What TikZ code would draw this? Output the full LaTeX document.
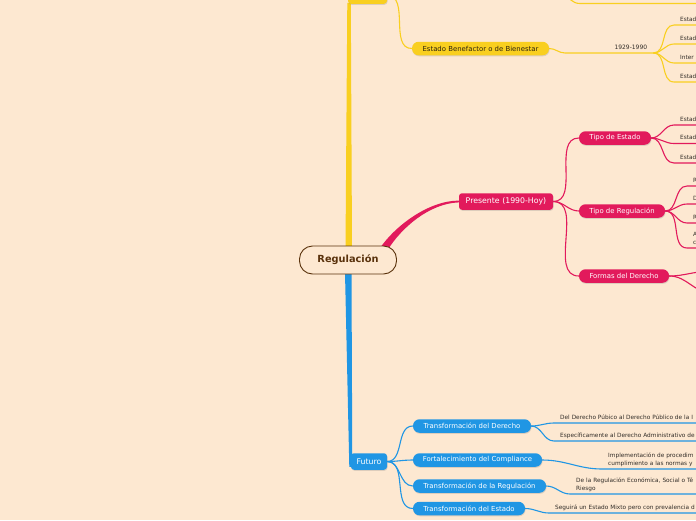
\documentclass[tikz,border=0pt]{standalone}
\usepackage{fontspec}
\setmainfont{DejaVu Sans}
\usetikzlibrary{calc,shadows,backgrounds}
\definecolor{fondo}{RGB}{253,232,209}
\definecolor{amarillo}{RGB}{249,207,32}
\definecolor{rosa}{RGB}{226,26,92}
\definecolor{azul}{RGB}{32,150,228}
\definecolor{marron}{RGB}{90,50,12}
\definecolor{textohoja}{RGB}{50,45,40}
\definecolor{textoamarillo}{RGB}{45,35,15}
\tikzset{
  sombra/.style={drop shadow={opacity=0.25, shadow xshift=0.5pt, shadow yshift=-1pt}},
  raiz/.style={draw=marron, fill=fondo, line width=0.9pt, rounded corners=13pt,
    minimum width=97pt, minimum height=28pt, text=marron,
    font=\fontsize{9.8}{11}\selectfont\bfseries},
  epoca/.style={fill=#1, rounded corners=3pt, inner sep=0pt, minimum height=16.5pt,
    text=white, font=\fontsize{7.8}{9}\selectfont, sombra},
  tema/.style={fill=#1, rounded corners=6.5pt, inner sep=0pt, minimum height=13.5pt,
    text=white, font=\fontsize{6.9}{8}\selectfont, sombra},
  hoja/.style={anchor=south west, inner xsep=6pt, inner ysep=2pt, text depth=1.5pt,
    text width=#1, align=left, text=textohoja, font=\fontsize{5.8}{7.8}\selectfont},
  hoja/.default=170pt,
  dosfilas/.style={text depth=9.3pt},
  rama/.style={draw=#1, line width=1.1pt},
}
\begin{document}
\begin{tikzpicture}[x=1pt, y=-1pt]
    \path[use as bounding box] (0,0) rectangle (696,520);
    \clip (0,0) rectangle (696,520);
    \begin{scope}[on background layer]
      \fill[fondo] (0,0) rectangle (696,520);
    \end{scope}
    % Raíz y épocas
    \node[raiz] (regul) at (348,260) {Regulación};
    \node[epoca=amarillo, minimum width=39pt] (pasado) at (367.5,-4.5) {};
    \node[epoca=rosa, minimum width=94pt] (presente) at (506,201.5) {Presente (1990-Hoy)};
    \node[epoca=azul, minimum width=36pt] (futuro) at (369,461.5) {Futuro};
    % Pasado
    \node[tema=amarillo, text=textoamarillo, minimum width=137pt] (benefactor) at (480.5,48.5) {Estado Benefactor o de Bienestar};
    \node[hoja=76pt, align=right, font=\fontsize{6}{7}\selectfont] (periodo) at (565,53) {1929-1990};
    \node[hoja] (bene1) at (674,25) {Estad};
    \node[hoja] (bene2) at (674,44) {Estad};
    \node[hoja] (bene3) at (674,63) {Inter};
    \node[hoja] (bene4) at (674,82) {Estad};
    \coordinate (oculta) at (548,-20);
    \coordinate (ocultahoja) at (580,3.5);
    \coordinate (ocultafin) at (700,3.5);
    % Presente
    \node[tema=rosa, minimum width=72pt] (tipoestado) at (615,138) {Tipo de Estado};
    \node[tema=rosa, minimum width=86pt] (tiporeg) at (622,211) {Tipo de Regulación};
    \node[tema=rosa, minimum width=90pt] (formas) at (624,276) {Formas del Derecho};
    \node[hoja] (estado1) at (674,125) {Estad};
    \node[hoja] (estado2) at (674,143.5) {Estad};
    \node[hoja] (estado3) at (674,163) {Estad};
    \node[hoja] (reg1) at (687,186) {R};
    \node[hoja] (reg2) at (687,204) {D};
    \node[hoja] (reg3) at (687,223) {R};
    \node[hoja, dosfilas] (reg4) at (687,248) {A\\c};
    \coordinate (formas1) at (708,271.5);
    \coordinate (formas2) at (712,293);
    % Futuro
    \node[tema=azul, minimum width=118pt] (tderecho) at (472,426) {Transformación del Derecho};
    \node[tema=azul, minimum width=129pt] (compliance) at (477.5,460) {Fortalecimiento del Compliance};
    \node[tema=azul, minimum width=133pt] (treg) at (479.5,486) {Transformación de la Regulación};
    \node[tema=azul, minimum width=112pt] (testado) at (469,508.5) {Transformación del Estado};
    \node[hoja] (derecho1) at (554,423) {Del Derecho Púbico al Derecho Público de la I};
    \node[hoja] (derecho2) at (554,441) {Específicamente al Derecho Administrativo de};
    \node[hoja, dosfilas] (compl1) at (602,469) {Implementación de procedim\\cumplimiento a las normas y};
    \node[hoja, dosfilas] (reg5) at (570,494) {De la Regulación Económica, Social o Té\\Riesgo};
    \node[hoja] (estado4) at (549,513) {Seguirá un Estado Mixto pero con prevalencia d};
    % Ramas
    \begin{scope}[on background layer]
      \clip (0,0) rectangle (696,520);
      \fill[amarillo] ($(regul.north)+(-2.5,2)$) -- ($(regul.north)+(4,2)$) -- ($(pasado.south west)+(3,-1)$) -- ($(pasado.south west)+(-0.5,-1)$) -- cycle;
      \draw[rama=amarillo] (pasado.east) to[out=0,in=180] (benefactor.west);
      \draw[rama=amarillo] (benefactor.east) to[out=0,in=180] (periodo.south west) -- (periodo.south east);
      \draw[rama=amarillo] (periodo.south east) to[out=0,in=180] (bene1.south west) -- (bene1.south east);
      \draw[rama=amarillo] (periodo.south east) to[out=0,in=180] (bene2.south west) -- (bene2.south east);
      \draw[rama=amarillo] (periodo.south east) to[out=0,in=180] (bene3.south west) -- (bene3.south east);
      \draw[rama=amarillo] (periodo.south east) to[out=0,in=180] (bene4.south west) -- (bene4.south east);
      \draw[rama=amarillo] (oculta) to[out=0,in=180] (ocultahoja) -- (ocultafin);
      \fill[rosa] ($(regul.north east)+(-18,4)$) .. controls +(16,-24) and +(-30,0) .. ($(presente.west)+(0,-0.9)$)
        -- ($(presente.west)+(0,0.9)$) .. controls +(-30,1) and +(13,-21) .. ($(regul.north east)+(-9,4)$) -- cycle;
      \draw[rama=rosa] (presente.east) to[out=0,in=180] (tipoestado.west);
      \draw[rama=rosa] (presente.east) to[out=0,in=180] (tiporeg.west);
      \draw[rama=rosa] (presente.east) to[out=0,in=180] (formas.west);
      \draw[rama=rosa] (tipoestado.east) to[out=0,in=180] (estado1.south west) -- (estado1.south east);
      \draw[rama=rosa] (tipoestado.east) to[out=0,in=180] (estado2.south west) -- (estado2.south east);
      \draw[rama=rosa] (tipoestado.east) to[out=0,in=180] (estado3.south west) -- (estado3.south east);
      \draw[rama=rosa] (tiporeg.east) to[out=0,in=180] (reg1.south west) -- (reg1.south east);
      \draw[rama=rosa] (tiporeg.east) to[out=0,in=180] (reg2.south west) -- (reg2.south east);
      \draw[rama=rosa] (tiporeg.east) to[out=0,in=180] (reg3.south west) -- (reg3.south east);
      \draw[rama=rosa] (tiporeg.east) to[out=0,in=180] (reg4.south west) -- (reg4.south east);
      \draw[rama=rosa] (formas.east) to[out=0,in=180] (formas1);
      \draw[rama=rosa] (formas.east) to[out=0,in=180] (formas2);
      \fill[azul] ($(regul.south)+(-3,-2)$) -- ($(regul.south)+(3.5,-2)$) -- ($(futuro.south west)+(1.5,-3)$) -- ($(futuro.south west)+(-1.5,-3)$) -- cycle;
      \draw[rama=azul] (futuro.east) to[out=0,in=180] (tderecho.west);
      \draw[rama=azul] (futuro.east) to[out=0,in=180] (compliance.west);
      \draw[rama=azul] (futuro.east) to[out=0,in=180] (treg.west);
      \draw[rama=azul] (futuro.east) to[out=0,in=180] (testado.west);
      \draw[rama=azul] (tderecho.east) to[out=0,in=180] (derecho1.south west) -- (derecho1.south east);
      \draw[rama=azul] (tderecho.east) to[out=0,in=180] (derecho2.south west) -- (derecho2.south east);
      \draw[rama=azul] (compliance.east) to[out=0,in=180] (compl1.south west) -- (compl1.south east);
      \draw[rama=azul] (treg.east) to[out=0,in=180] (reg5.south west) -- (reg5.south east);
      \draw[rama=azul] (testado.east) to[out=0,in=180] (estado4.south west) -- (estado4.south east);
    \end{scope}
\end{tikzpicture}
\end{document}
